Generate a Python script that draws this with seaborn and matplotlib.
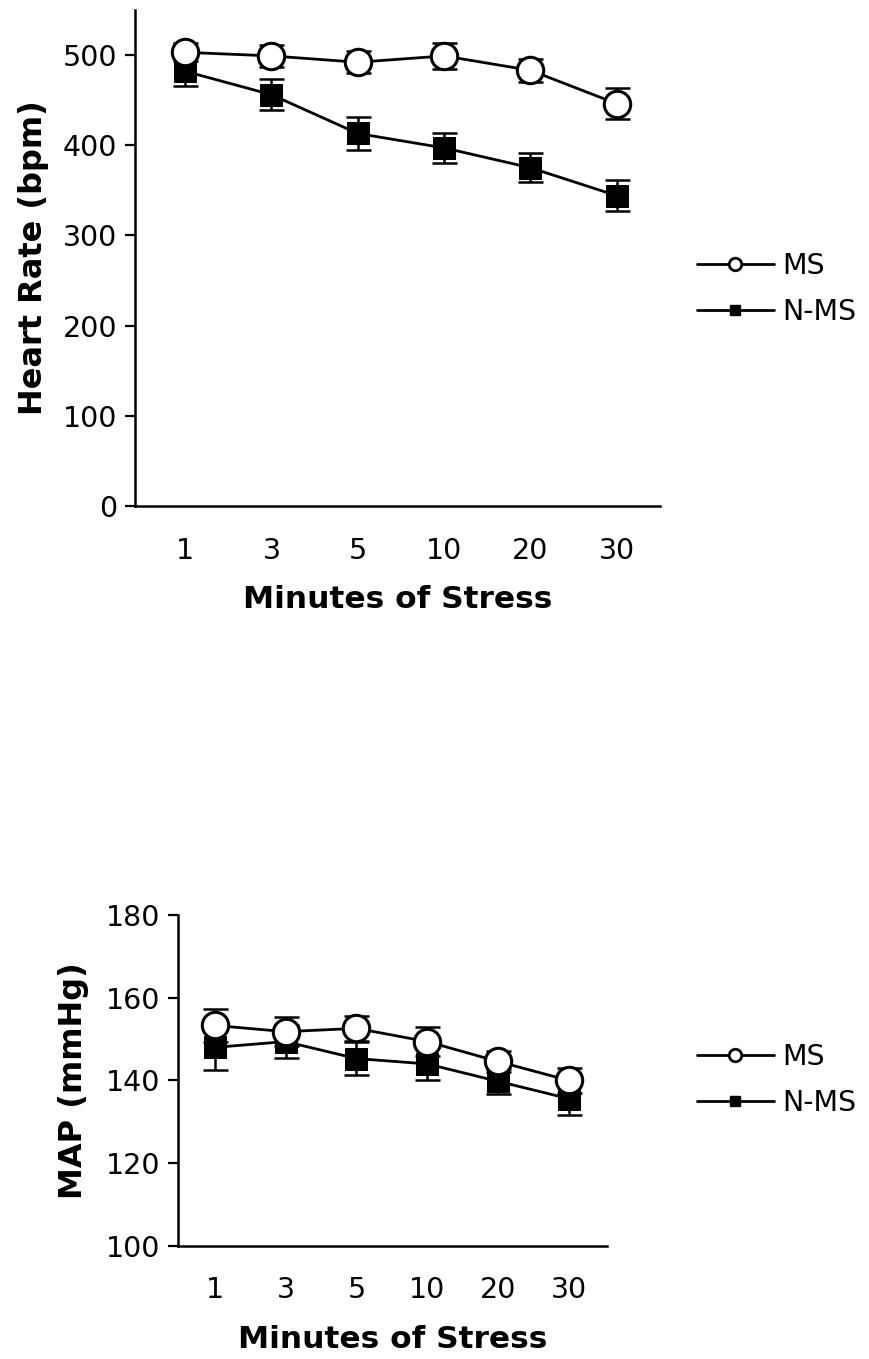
import numpy as np
import matplotlib
matplotlib.use("Agg")
import matplotlib.pyplot as plt
from matplotlib.lines import Line2D
import seaborn as sns

# Data
minutes = ["1", "3", "5", "10", "20", "30"]

hr_ms = [503, 499, 492, 499, 483, 446]
hr_ms_err = [10, 12, 12, 14, 13, 17]
hr_nms = [482, 456, 413, 397, 375, 344]
hr_nms_err = [16, 17, 18, 17, 16, 17]

map_ms = [153.3, 151.8, 152.6, 149.4, 144.6, 140.0]
map_ms_err = [4.0, 3.5, 3.0, 3.5, 2.5, 3.0]
map_nms = [148.0, 149.4, 145.3, 144.0, 139.8, 135.6]
map_nms_err = [5.5, 4.0, 4.0, 4.0, 3.0, 4.0]

sns.set_style("ticks", {"axes.edgecolor": "black", "text.color": "black",
                        "axes.labelcolor": "black", "xtick.color": "black",
                        "ytick.color": "black"})
plt.rcParams['font.family'] = ['DejaVu Sans']

fig = plt.figure(figsize=(8.69, 13.59), dpi=100)
ax1 = fig.add_axes([0.1554, 0.6277, 0.6041, 0.365])
ax2 = fig.add_axes([0.2048, 0.0832, 0.4937, 0.2435])

pos = np.arange(len(minutes))


def draw(ax, ms, ms_err, nms, nms_err):
    ax.errorbar(pos, nms, yerr=nms_err, fmt='none', ecolor='black',
                elinewidth=1.8, capsize=9, capthick=1.8, zorder=2)
    ax.errorbar(pos, ms, yerr=ms_err, fmt='none', ecolor='black',
                elinewidth=1.8, capsize=9, capthick=1.8, zorder=2)
    sns.lineplot(x=pos, y=nms, ax=ax, color='black', linewidth=2,
                 marker='s', markersize=16, markerfacecolor='black',
                 markeredgecolor='black', zorder=3)
    sns.lineplot(x=pos, y=ms, ax=ax, color='black', linewidth=2,
                 marker='o', markersize=19, markerfacecolor='white',
                 markeredgecolor='black', markeredgewidth=2.2, zorder=4)
    ax.set_xticks(pos)
    ax.set_xticklabels(minutes)
    ax.tick_params(axis='x', length=0, labelsize=20.5, pad=22, colors='black')
    ax.tick_params(axis='y', length=7, width=1.6, labelsize=20.5, pad=6, colors='black')
    for s in ['left', 'bottom']:
        ax.spines[s].set_linewidth(1.8)
        ax.spines[s].set_color('black')
    sns.despine(ax=ax)
    ax.set_xlabel("Minutes of Stress", fontsize=22.5, fontweight='bold',
                  labelpad=15, color='black')


draw(ax1, hr_ms, hr_ms_err, hr_nms, hr_nms_err)
ax1.set_ylim(0, 550)
ax1.set_yticks([0, 100, 200, 300, 400, 500])
ax1.set_xlim(-0.58, 5.5)
ax1.set_ylabel("Heart Rate (bpm)", fontsize=23, fontweight='bold',
               labelpad=10, color='black')

draw(ax2, map_ms, map_ms_err, map_nms, map_nms_err)
ax2.set_ylim(100, 180)
ax2.set_yticks([100, 120, 140, 160, 180])
ax2.set_xlim(-0.52, 5.54)
ax2.set_ylabel("MAP (mmHg)", fontsize=23, fontweight='bold',
               labelpad=12, color='black')

handles = [
    Line2D([], [], color='black', linewidth=2, marker='o', markersize=9,
           markerfacecolor='white', markeredgecolor='black', markeredgewidth=2),
    Line2D([], [], color='black', linewidth=2, marker='s', markersize=7,
           markerfacecolor='black', markeredgecolor='black'),
]
for y in [1 - 289 / 1359, 1 - 1080 / 1359]:
    fig.legend(handles, ["MS", "N-MS"], loc='center left',
               bbox_to_anchor=(0.802, y), frameon=False, fontsize=20.5,
               handlelength=2.7, handletextpad=0.3, labelspacing=0.63,
               borderpad=0, borderaxespad=0, labelcolor='black')

fig.savefig("out.png", dpi=100)
